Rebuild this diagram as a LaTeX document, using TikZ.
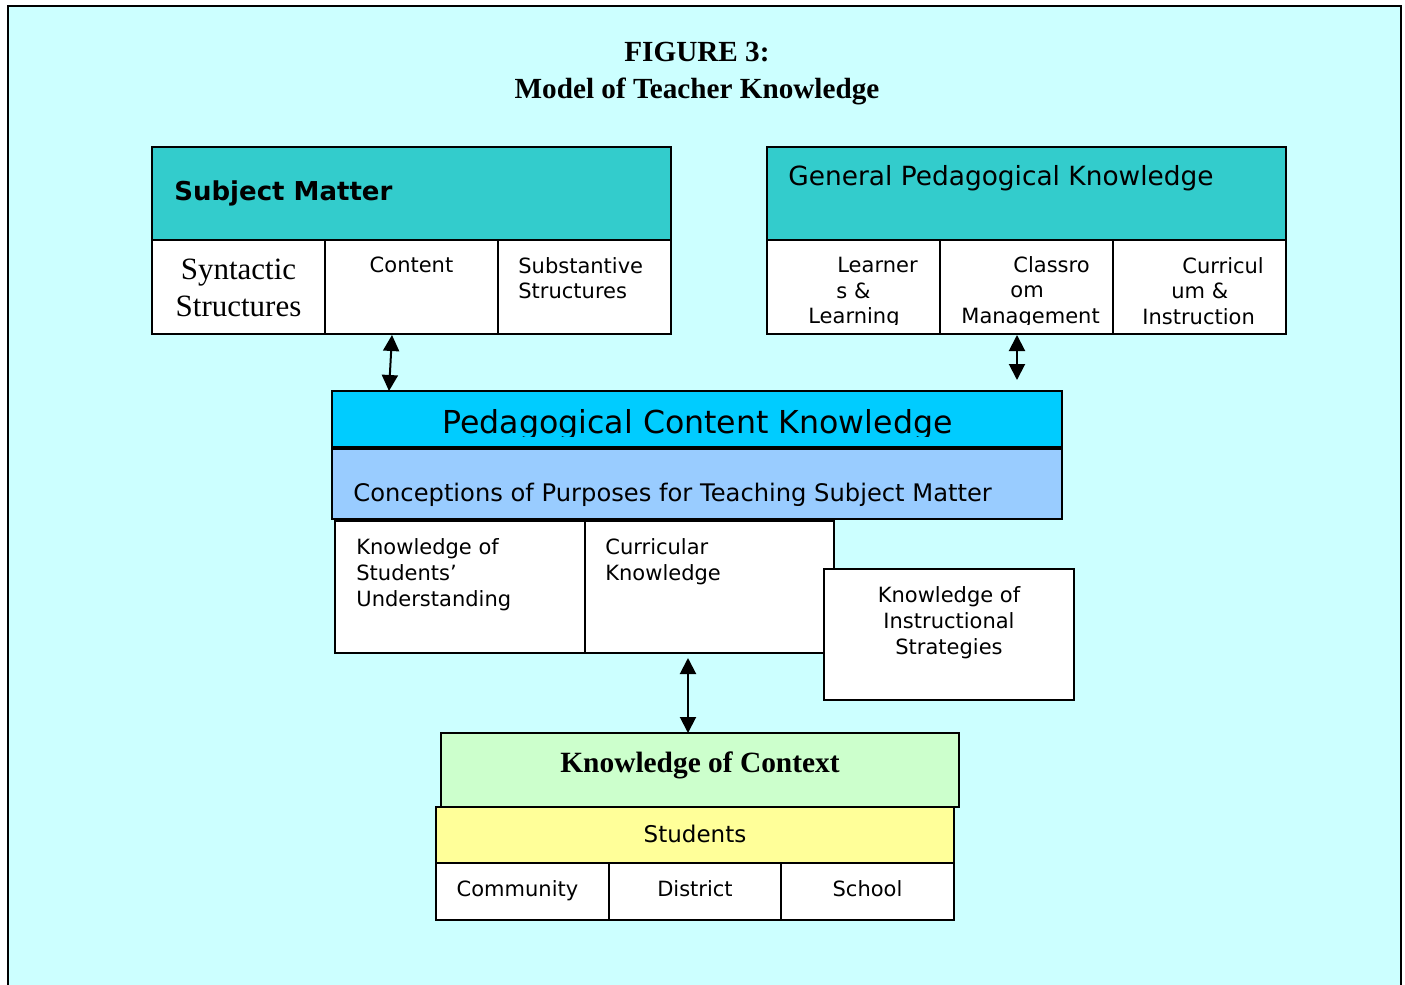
\documentclass[tikz,border=0pt]{standalone}
\usepackage{fontspec}
\setmainfont{Liberation Serif}
\setsansfont{DejaVu Sans}
\usetikzlibrary{arrows.meta}
\definecolor{sky}{HTML}{CCFFFF}
\definecolor{tealhead}{HTML}{33CCCC}
\definecolor{pckblue}{HTML}{00CCFF}
\definecolor{purpblue}{HTML}{99CCFF}
\definecolor{ctxgreen}{HTML}{CCFFCC}
\definecolor{stuyellow}{HTML}{FFFF99}
\tikzset{
  % Box nodes are placed by their top left corner; text nodes sit inside them
  head node/.style={rectangle,draw,line width=1pt,inner sep=0,outer sep=0,anchor=north west},
  cell node/.style={head node,fill=white},
  label node/.style={inner sep=0,font=\sffamily\fontsize{10.5}{12.75}\selectfont},
  twoway/.style={{Triangle[length=8pt,width=8pt]}-{Triangle[length=8pt,width=8pt]},line width=1pt}
}

\begin{document}
\begin{tikzpicture}
[x=0.5pt,y=-0.5pt,
px box/.style 2 args={minimum width=#1*0.5pt,minimum height=#2*0.5pt}
]
\useasboundingbox (0,0) rectangle (1405,985);
\filldraw[fill=sky,draw=black,line width=1pt] (8,6) rectangle (1401,1000);
\node[font=\bfseries\fontsize{14.6}{18.5}\selectfont,align=center,inner sep=0,anchor=north] (title) at (697,42) {FIGURE 3:\\Model of Teacher Knowledge};

% subject matter
\node[head node,fill=tealhead,px box={519}{93}] (sm) at (152,147) {};
\node[cell node,px box={173}{94}] (smsyn) at (sm.south west) {};
\node[cell node,px box={173}{94}] (smcon) at (smsyn.north east) {};
\node[cell node,px box={173}{94}] (smsub) at (smcon.north east) {};
\node[font=\sffamily\bfseries\fontsize{13}{15}\selectfont,inner sep=0,anchor=base west] (smtx) at ([shift={(22,53)}]sm.north west) {Subject Matter};
\node[font=\fontsize{15.5}{18.3}\selectfont,align=center,inner sep=0,anchor=north] (syntx) at ([shift={(0,19)}]smsyn.north) {Syntactic\\Structures};
\node[label node,anchor=north] (contx) at ([shift={(0,17)}]smcon.north) {Content};
\node[label node,align=left,anchor=north west] (subtx) at ([shift={(20,17)}]smsub.north west) {Substantive\\Structures};

% general pedagogical knowledge
\node[head node,fill=tealhead,px box={519}{93}] (gp) at (767,147) {};
\node[cell node,px box={173}{94}] (gpl) at (gp.south west) {};
\node[cell node,px box={173}{94}] (gpc) at (gpl.north east) {};
\node[cell node,px box={173}{94}] (gpi) at (gpc.north east) {};
\node[font=\sffamily\fontsize{13.2}{15}\selectfont,inner sep=0,anchor=base west] (gptx) at ([shift={(21,38)}]gp.north west) {General Pedagogical Knowledge};
\begin{scope}
\clip (gpl.north west) rectangle ([shift={(0,-10)}]gpi.south east);
\node[label node,align=left,anchor=north west] (gpltx) at ([shift={(41,17)}]gpl.north west) {\hspace*{14.5pt}Learner\\\hspace*{14pt}s \&\\Learning};
\node[label node,align=left,anchor=north west] (gpctx) at ([shift={(21,16)}]gpc.north west) {\hspace*{26pt}Classro\\\hspace*{24.5pt}om\\Management};
\node[label node,align=left,anchor=north west] (gpitx) at ([shift={(29,17)}]gpi.north west) {\hspace*{20pt}Curricul\\\hspace*{14.5pt}um \&\\Instruction};
\end{scope}

% pedagogical content knowledge
\node[head node,fill=pckblue,px box={730}{56}] (pck) at (332,391) {};
\node[head node,fill=purpblue,px box={730}{70}] (cpt) at ([shift={(0,2)}]pck.south west) {};
\begin{scope}
\clip (pck.north west) rectangle ([shift={(0,-11)}]pck.south east);
\node[font=\sffamily\fontsize{15.8}{18}\selectfont,inner sep=0,anchor=base] (pcktx) at ([shift={(0.5,42)}]pck.north) {Pedagogical Content Knowledge};
\end{scope}
\node[font=\sffamily\fontsize{12.1}{14}\selectfont,inner sep=0,anchor=base west] (cpttx) at ([shift={(21,52)}]cpt.north west) {Conceptions of Purposes for Teaching Subject Matter};
\node[cell node,px box={250}{132}] (kos) at ([shift={(3,2)}]cpt.south west) {};
\node[cell node,px box={249}{132}] (ck) at (kos.north east) {};
\node[cell node,px box={250}{131}] (kis) at ([shift={(-10,48)}]ck.north east) {};
\node[label node,font=\sffamily\fontsize{10.5}{13}\selectfont,align=left,anchor=north west] (kostx) at ([shift={(21,17)}]kos.north west) {Knowledge of\\Students'\\Understanding};
\node[label node,font=\sffamily\fontsize{10.5}{13}\selectfont,align=left,anchor=north west] (cktx) at ([shift={(20,17)}]ck.north west) {Curricular\\Knowledge};
\node[label node,font=\sffamily\fontsize{10.5}{13}\selectfont,align=center,anchor=north] (kistx) at ([shift={(0,17)}]kis.north) {Knowledge of\\Instructional\\Strategies};

% knowledge of context
\node[head node,fill=ctxgreen,px box={518}{74}] (koc) at (441,733) {};
\node[head node,fill=stuyellow,px box={518}{56}] (stu) at ([shift={(-5,0)}]koc.south west) {};
\node[cell node,px box={173}{57}] (com) at (stu.south west) {};
\node[cell node,px box={172}{57}] (dis) at (com.north east) {};
\node[cell node,px box={173}{57}] (sch) at (dis.north east) {};
\node[font=\bfseries\fontsize{14.7}{17}\selectfont,inner sep=0,anchor=base] (koctx) at ([shift={(0,39)}]koc.north) {Knowledge of Context};
\node[font=\sffamily\fontsize{11.5}{14}\selectfont,inner sep=0,anchor=base] (stutx) at ([shift={(0,35)}]stu.north) {Students};
\node[label node,anchor=base] (comtx) at ([shift={(-5,33)}]com.north) {Community};
\node[label node,anchor=base] (distx) at ([shift={(0,33)}]dis.north) {District};
\node[label node,anchor=base] (schtx) at ([shift={(0,33)}]sch.north) {School};

% two way arrows
\coordinate (gpend) at ([shift={(-9.5,46)}]gpc.south);
\draw[twoway] ([shift={(-19.5,1)}]smcon.south) -- ([shift={(57,0)}]pck.north west);
\draw[twoway] ([shift={(-9.5,1)}]gpc.south) -- (gpend);
\draw[twoway] ([shift={(-21.5,5)}]ck.south) -- ([shift={(-12,0)}]koc.north);
\end{tikzpicture}
\end{document}
